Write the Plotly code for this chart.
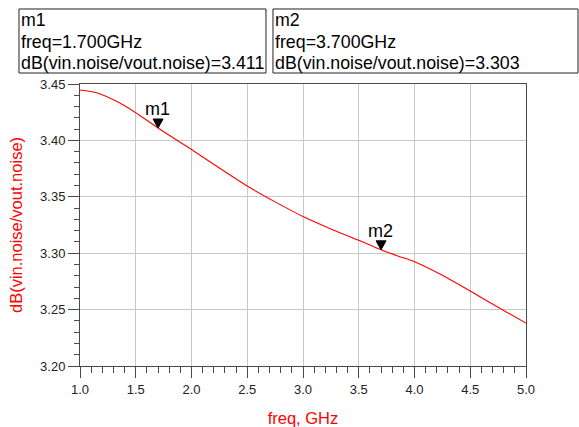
import plotly.graph_objects as go

# ---- data ----
freq_ghz = [1.0, 1.15, 1.35, 1.5, 1.7, 1.88, 2.0, 2.25, 2.5, 2.75, 3.0, 3.25, 3.5, 3.7, 3.85, 4.0, 4.25, 4.5, 4.75, 5.0]
db_noise = [3.4447, 3.4423, 3.4335, 3.4245, 3.411, 3.3995, 3.392, 3.3755, 3.3595, 3.3455, 3.3325, 3.3215, 3.3115, 3.303, 3.2975, 3.2925, 3.2805, 3.2665, 3.252, 3.238]

marker_names = ["m1", "m2"]
marker_freq = [1.7, 3.7]
marker_vals = [3.411, 3.303]

FONT = "Liberation Sans, Arial, sans-serif"
AXIS = "#4a4a4a"

fig = go.Figure()
fig.add_trace(go.Scatter(
    x=freq_ghz, y=db_noise, mode="lines",
    line=dict(color="#ff0000", width=1.1, shape="spline", smoothing=0.6),
    hoverinfo="skip", showlegend=False,
))

shapes = []
annotations = []
# marker readout boxes (paper coords relative to the plot area)
box_x = [(-0.1368, 0.4170), (0.4327, 1.1166)]
line_y = [1.2270, 1.1489, 1.0745]
for i, (name, f, v) in enumerate(zip(marker_names, marker_freq, marker_vals)):
    # triangle marker, tip on the data point
    shapes.append(dict(
        type="path", xref="x", yref="y", xsizemode="pixel", ysizemode="pixel",
        xanchor=f, yanchor=v, path="M -5,9 L 5,9 L 0,0 Z",
        fillcolor="#000000", line=dict(color="#000000", width=1),
    ))
    annotations.append(dict(
        x=f, y=v, xref="x", yref="y", text=name, showarrow=False,
        yshift=19, xshift=-1, font=dict(family=FONT, size=18, color="#000000"),
    ))
    x0, x1 = box_x[i]
    shapes.append(dict(
        type="rect", xref="paper", yref="paper", x0=x0, x1=x1, y0=1.039, y1=1.266,
        line=dict(color="#222222", width=1), fillcolor="rgba(0,0,0,0)",
    ))
    lines = [name, f"freq={f:.3f}GHz", f"dB(vin.noise/vout.noise)={v:.3f}"]
    for txt, ly in zip(lines, line_y):
        annotations.append(dict(
            x=x0, y=ly, xref="paper", yref="paper", xanchor="left", yanchor="middle",
            xshift=1, align="left", showarrow=False, borderpad=0,
            text=txt, font=dict(family=FONT, size=17.8, color="#000000"),
        ))

fig.update_layout(
    width=579, height=427,
    margin=dict(l=80, r=53, t=84, b=61, autoexpand=False),
    paper_bgcolor="white", plot_bgcolor="white",
    font=dict(family=FONT, size=13, color="#222222"),
    shapes=shapes, annotations=annotations,
    showlegend=False,
)
fig.update_xaxes(
    range=[1.0, 5.0], tick0=1.0, dtick=0.5, tickformat=".1f", automargin=False,
    showgrid=True, gridcolor="#c8c8c8", gridwidth=1,
    showline=True, linecolor=AXIS, linewidth=1, mirror=True,
    ticks="outside", ticklen=11, tickcolor=AXIS,
    minor=dict(tick0=1.0, dtick=0.1, ticks="outside", ticklen=6, tickcolor=AXIS, showgrid=False),
    zeroline=False, tickfont=dict(size=13, color="#222222"),
    title=dict(text="freq, GHz", font=dict(size=16.5, color="#ff0000"), standoff=18),
)
fig.update_yaxes(
    range=[3.20, 3.45], tick0=3.20, dtick=0.05, tickformat=".2f", automargin=False,
    showgrid=True, gridcolor="#c8c8c8", gridwidth=1,
    showline=True, linecolor=AXIS, linewidth=1, mirror=True,
    ticks="outside", ticklen=11, tickcolor=AXIS,
    minor=dict(tick0=3.20, dtick=0.01, ticks="outside", ticklen=5, tickcolor=AXIS, showgrid=False),
    zeroline=False, tickfont=dict(size=13, color="#222222"),
    title=dict(text="dB(vin.noise/vout.noise)", font=dict(size=16.5, color="#ff0000"), standoff=13),
)

# remove the browser's default 8 px page margin so the figure sits at the corner
fig.write_html(
    "out.html",
    config={"displayModeBar": False, "staticPlot": True},
    post_script="document.body.style.margin='0';document.body.style.overflow='hidden';",
)
